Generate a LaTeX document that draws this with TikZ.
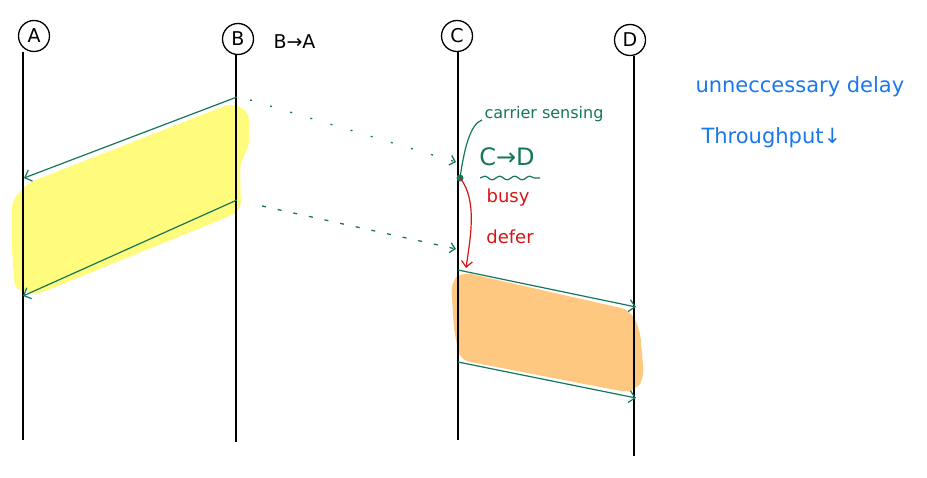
\documentclass[tikz,border=0pt]{standalone}
\usepackage{fontspec}
\setmainfont{DejaVu Sans}
\usetikzlibrary{arrows.meta,decorations.pathmorphing}
\definecolor{gr}{RGB}{20,118,90}
\definecolor{rd}{RGB}{215,20,20}
\definecolor{bl}{RGB}{25,120,235}
\definecolor{yl}{RGB}{255,252,125}
\definecolor{org}{RGB}{255,200,128}
\tikzset{
  station/.style={draw=black,circle,line width=1.3pt,inner sep=1pt,minimum size=31pt,font=\fontsize{19}{22}\selectfont},
  life/.style={draw=black,line width=1.3pt},
  msg/.style={draw=gr,line width=1.2pt,-{Straight Barb[length=6pt,width=12pt]}},
  dotmsg/.style={draw=gr,line width=1.3pt,-{Straight Barb[length=5pt,width=10pt]}},
}
\begin{document}
\begin{tikzpicture}[x=1pt,y=-1pt]
\useasboundingbox (0,0) rectangle (927,478);
% highlights
\fill[yl,rounded corners=8pt] (12,200) -- (28,183) -- (232,103) -- (249,112) -- (249,148) -- (240,162) -- (241,210) -- (230,216) -- (38,294) -- (15,290) -- (12,250) -- cycle;
\fill[org,rounded corners=9pt] (451,282) -- (462,272) -- (630,310) -- (640,330) -- (644,378) -- (636,390) -- (626,392) -- (460,360) -- (454,330) -- cycle;
% stations
\node[station] (A) at (34,36) {A};
\node[station] (B) at (238,39) {B};
\node[station] (C) at (457,36) {C};
\node[station] (D) at (630,40) {D};
\node[anchor=west,font=\fontsize{19}{22}\selectfont] (BA) at (270,42) {B→A};
% lifelines
\coordinate (Aend) at (23,440);
\coordinate (Bend) at (236,442);
\coordinate (Cend) at (458,440);
\coordinate (Dend) at (634,456);
\draw[life] (23,52) -- (Aend);
\draw[life] (236,55) -- (Bend);
\draw[life] (458,52) -- (Cend);
\draw[life] (634,56) -- (Dend);
% B->A messages
\coordinate (B1) at (237,97);
\coordinate (A1) at (24,178);
\coordinate (B2) at (237,200);
\coordinate (A2) at (23,296);
\draw[msg] (B1) -- (A1);
\draw[msg] (B2) -- (A2);
% overheard by C
\coordinate (C1) at (456,162);
\coordinate (C2) at (456,249);
\coordinate (B1s) at (250,100);
\coordinate (B2s) at (262,206);
\draw[dotmsg,dash pattern=on 2pt off 19pt] (B1s) -- (C1);
\draw[dotmsg,dash pattern=on 4pt off 12pt] (B2s) -- (C2);
% carrier sensing
\coordinate (S) at (460,178);
\fill[gr] (S) circle (3.5pt);
\node[text=gr,font=\fontsize{16}{19}\selectfont] (cs) at (544,114) {carrier sensing};
\draw[gr,line width=1.2pt] (S) .. controls (464,150) and (470,124) .. (482,120);
\node[text=gr,font=\fontsize{24}{28}\selectfont] (CD) at (507,157) {C→D};
\draw[gr,line width=1.2pt,decorate,decoration={snake,amplitude=1.8pt,segment length=15pt}] (480,178) -- (540,178);
% defer
\coordinate (Cd) at (466,268);
\draw[rd,line width=1.2pt,-{Straight Barb[length=6pt,width=11pt]}] (S) .. controls (478,200) and (470,240) .. (Cd);
\node[text=rd,font=\fontsize{18}{21}\selectfont] (busy) at (508,198) {busy};
\node[text=rd,font=\fontsize{18}{21}\selectfont] (defer) at (510,237) {defer};
% C->D messages
\coordinate (C3) at (458,270);
\coordinate (D3) at (636,307);
\coordinate (C4) at (458,362);
\coordinate (D4) at (636,398);
\draw[msg] (C3) -- (D3);
\draw[msg] (C4) -- (D4);
% notes
\node[text=bl,font=\fontsize{21}{25}\selectfont,anchor=west] (n1) at (692,87) {unneccessary delay};
\node[text=bl,font=\fontsize{21}{25}\selectfont,anchor=west] (n2) at (698,138) {Throughput↓};
\end{tikzpicture}
\end{document}
